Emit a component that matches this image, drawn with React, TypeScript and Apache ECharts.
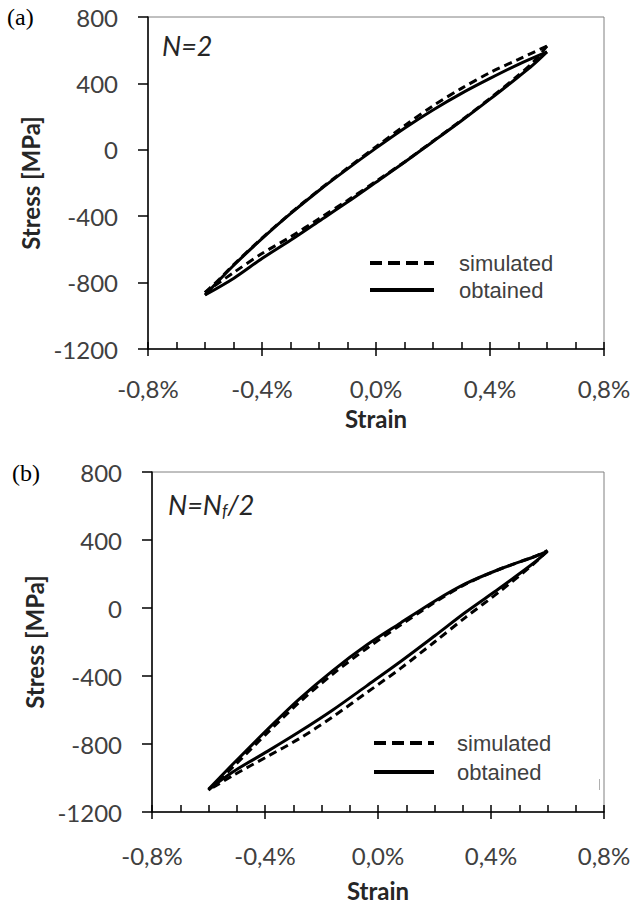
import React, { useEffect, useRef } from "react";
import * as echarts from "echarts";

// ---- axes / labels ----
const STRAIN_TICKS = [-0.8, -0.4, 0, 0.4, 0.8];
const STRESS_TICKS = [-1200, -800, -400, 0, 400, 800];
const SERIES_NAMES = ["simulated", "obtained"];
const PANEL_LABELS = ["(a)", "(b)"];
const X_NAME = "Strain";
const Y_NAME = "Stress [MPa]";

// ---- panel (a): N = 2  (strain %, stress MPa) ----
const aObtainedUpper = [
  [-0.6, -875], [-0.55, -785], [-0.5, -697], [-0.4, -535], [-0.3, -385], [-0.2, -245],
  [-0.1, -115], [0, 10], [0.1, 130], [0.2, 240], [0.3, 340], [0.4, 430], [0.5, 515], [0.6, 590],
];
const aObtainedLower = [
  [0.6, 590], [0.55, 510], [0.5, 440], [0.4, 305], [0.3, 175], [0.2, 50], [0.1, -75],
  [0, -195], [-0.1, -315], [-0.2, -430], [-0.3, -545], [-0.4, -655], [-0.5, -775], [-0.6, -875],
];
const aSimulatedUpper = [
  [-0.6, -860], [-0.55, -780], [-0.5, -693], [-0.4, -532], [-0.3, -382], [-0.2, -242],
  [-0.1, -110], [0, 18], [0.1, 145], [0.2, 265], [0.3, 370], [0.4, 465], [0.5, 545], [0.6, 625],
];
const aSimulatedLower = [
  [0.6, 625], [0.55, 525], [0.5, 450], [0.4, 310], [0.3, 178], [0.2, 52], [0.1, -73],
  [0, -190], [-0.1, -305], [-0.2, -415], [-0.3, -525], [-0.4, -625], [-0.5, -740], [-0.6, -860],
];

// ---- panel (b): N = Nf/2 ----
const bObtainedUpper = [
  [-0.6, -1067], [-0.51, -912], [-0.39, -712], [-0.28, -537], [-0.16, -368], [-0.04, -218],
  [0.08, -88], [0.2, 40], [0.31, 143], [0.43, 228], [0.55, 300], [0.6, 333],
];
const bObtainedLower = [
  [0.6, 333], [0.55, 263], [0.43, 116], [0.31, -25], [0.2, -165], [0.08, -315],
  [-0.04, -458], [-0.16, -600], [-0.28, -730], [-0.39, -842], [-0.51, -960], [-0.6, -1067],
];
const bSimulatedUpper = [
  [-0.6, -1072], [-0.51, -930], [-0.39, -732], [-0.28, -557], [-0.16, -388], [-0.04, -238],
  [0.08, -100], [0.2, 32], [0.31, 140], [0.43, 228], [0.55, 300], [0.6, 338],
];
const bSimulatedLower = [
  [0.6, 338], [0.55, 258], [0.43, 96], [0.31, -55], [0.2, -200], [0.08, -355],
  [-0.04, -498], [-0.16, -640], [-0.28, -770], [-0.39, -872], [-0.51, -982], [-0.6, -1072],
];

const TICK_FONT = "Lato";
const fmtStrain = (v: number) => {
  const r = Math.round(v * 10) / 10;
  return (r === 0 ? 0 : r).toFixed(1).replace(".", ",") + "%";
};
const fmtStress = (v: number) => String(Math.round(v));

function lineSeries(name: string, data: number[][], xi: number, yi: number, dashed: boolean) {
  return {
    type: "line",
    name,
    data,
    xAxisIndex: xi,
    yAxisIndex: yi,
    showSymbol: false,
    symbol: "none",
    smooth: 0.3,
    silent: true,
    z: dashed ? 3 : 2,
    lineStyle: { color: "#000", width: 3, type: dashed ? [8, 5] : "solid" },
    itemStyle: { color: "#000" },
    emphasis: { disabled: true },
  };
}

function xMain(gi: number, margin: number, nameGap: number) {
  return {
    type: "value",
    gridIndex: gi,
    position: "bottom",
    min: STRAIN_TICKS[0],
    max: STRAIN_TICKS[STRAIN_TICKS.length - 1],
    interval: STRAIN_TICKS[1] - STRAIN_TICKS[0],
    name: X_NAME,
    nameLocation: "middle",
    nameGap,
    nameTextStyle: { fontFamily: TICK_FONT, fontWeight: "bold", fontSize: 24, lineHeight: 24, color: "#262626" },
    axisLine: { show: true, onZero: false, lineStyle: { color: "#000", width: 1.5 } },
    axisTick: { show: true, inside: false, length: 7, lineStyle: { color: "#000", width: 1.5 } },
    minorTick: { show: false },
    splitLine: { show: false },
    axisLabel: {
      margin,
      formatter: fmtStrain,
      fontFamily: TICK_FONT,
      fontSize: 24,
      lineHeight: 24,
      color: "#404040",
      showMinLabel: true,
      showMaxLabel: true,
    },
  };
}

function xMinor(gi: number) {
  return {
    type: "value",
    gridIndex: gi,
    position: "bottom",
    offset: 0,
    min: STRAIN_TICKS[0],
    max: STRAIN_TICKS[STRAIN_TICKS.length - 1],
    interval: STRAIN_TICKS[1] - STRAIN_TICKS[0],
    axisLine: { show: false, onZero: false },
    axisLabel: { show: false },
    axisTick: { show: true, inside: true, length: 7, lineStyle: { color: "#000", width: 1.5 } },
    minorTick: { show: true, splitNumber: 4, length: 7, lineStyle: { color: "#000", width: 1.5 } },
    splitLine: { show: false },
    minorSplitLine: { show: false },
  };
}

function yAxis(gi: number, nameGap: number) {
  return {
    type: "value",
    gridIndex: gi,
    min: STRESS_TICKS[0],
    max: STRESS_TICKS[STRESS_TICKS.length - 1],
    interval: STRESS_TICKS[1] - STRESS_TICKS[0],
    name: Y_NAME,
    nameLocation: "middle",
    nameRotate: 90,
    nameGap,
    nameTextStyle: { fontFamily: TICK_FONT, fontWeight: "bold", fontSize: 24, lineHeight: 24, color: "#262626" },
    axisLine: { show: true, onZero: false, lineStyle: { color: "#000", width: 1.5 } },
    axisTick: { show: true, inside: false, length: 10, lineStyle: { color: "#000", width: 1.5 } },
    splitLine: { show: false },
    axisLabel: { margin: 30, formatter: fmtStress, fontFamily: TICK_FONT, fontSize: 24, lineHeight: 24, color: "#404040" },
  };
}

function legend(left: number, top: number, itemWidth: number, itemGap: number, textPad: number) {
  const hidden = { opacity: 0, color: "transparent", borderWidth: 0 };
  return {
    show: true,
    orient: "vertical",
    left,
    top,
    padding: 0,
    itemWidth,
    itemHeight: 14,
    itemGap,
    selectedMode: false,
    data: [
      { name: SERIES_NAMES[0], itemStyle: hidden, lineStyle: { type: [12, 6], width: 4, color: "#000" } },
      { name: SERIES_NAMES[1], itemStyle: hidden, lineStyle: { type: "solid", width: 4, color: "#000" } },
    ],
    textStyle: {
      fontFamily: "Liberation Sans",
      fontSize: 22,
      lineHeight: 22,
      color: "#404040",
      padding: [0, 0, 0, textPad],
    },
  };
}

export default function App() {
  const ref = useRef<HTMLDivElement>(null);
  useEffect(() => {
    if (!ref.current) return;
    const chart = echarts.init(ref.current, undefined, { renderer: "svg" });
    const option: any = {
      animation: false,
      backgroundColor: "#fff",
      grid: [
        { left: 148, top: 17, width: 456, height: 332, show: true, borderColor: "#808080", borderWidth: 1, backgroundColor: "transparent" },
        { left: 152, top: 472, width: 452, height: 340, show: true, borderColor: "#808080", borderWidth: 1, backgroundColor: "transparent" },
      ],
      xAxis: [xMain(0, 27, 57), xMinor(0), xMain(1, 31, 66), xMinor(1)],
      yAxis: [yAxis(0, 89), yAxis(1, 93)],
      legend: [legend(368, 252, 64, 5, 20), legend(372, 732, 60, 7, 18)],
      series: [
        lineSeries(SERIES_NAMES[0], aSimulatedUpper, 0, 0, true),
        lineSeries(SERIES_NAMES[0], aSimulatedLower, 0, 0, true),
        lineSeries(SERIES_NAMES[1], aObtainedUpper, 0, 0, false),
        lineSeries(SERIES_NAMES[1], aObtainedLower, 0, 0, false),
        lineSeries(SERIES_NAMES[0], bSimulatedUpper, 2, 1, true),
        lineSeries(SERIES_NAMES[0], bSimulatedLower, 2, 1, true),
        lineSeries(SERIES_NAMES[1], bObtainedUpper, 2, 1, false),
        lineSeries(SERIES_NAMES[1], bObtainedLower, 2, 1, false),
      ],
      graphic: [
        {
          type: "text",
          x: 7,
          y: 17,
          style: { text: PANEL_LABELS[0], fontFamily: "Liberation Serif", fontSize: 24, fill: "#000", align: "left", verticalAlign: "middle" },
        },
        {
          type: "text",
          x: 12,
          y: 473,
          style: { text: PANEL_LABELS[1], fontFamily: "Liberation Serif", fontSize: 24, fill: "#000", align: "left", verticalAlign: "middle" },
        },
        {
          type: "text",
          x: 162,
          y: 45,
          style: { text: "N=2", fontFamily: TICK_FONT, fontStyle: "italic", fontSize: 27, fill: "#262626", align: "left", verticalAlign: "middle" },
        },
        {
          type: "text",
          x: 168,
          y: 504,
          style: {
            text: "{n|N=N}{s|f}{n|/2}",
            align: "left",
            verticalAlign: "middle",
            rich: {
              n: { fontFamily: TICK_FONT, fontStyle: "italic", fontSize: 27, lineHeight: 30, fill: "#262626" },
              s: { fontFamily: TICK_FONT, fontStyle: "italic", fontSize: 17, lineHeight: 14, fill: "#262626", verticalAlign: "bottom" },
            },
          },
        },
        {
          type: "line",
          shape: { x1: 599.5, y1: 779, x2: 599.5, y2: 790 },
          style: { stroke: "#b0b0b0", lineWidth: 1 },
          silent: true,
        },
      ],
    };
    chart.setOption(option);
    return () => chart.dispose();
  }, []);
  return (
    <div
      ref={ref}
      style={{ position: "absolute", left: 0, top: 0, width: 636, height: 905, background: "#fff" }}
    />
  );
}
